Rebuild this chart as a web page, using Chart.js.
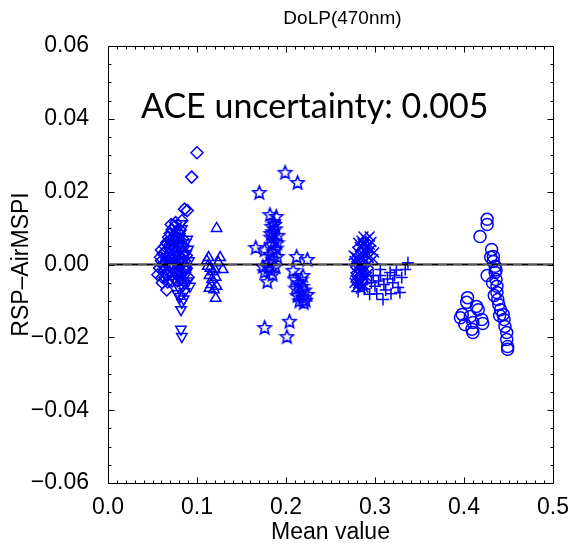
<!DOCTYPE html>
<html>
<head>
<meta charset="utf-8">
<title>DoLP(470nm)</title>
<script src="https://cdn.jsdelivr.net/npm/chart.js@4.4.1/dist/chart.umd.min.js"></script>
<style>
    html, body { margin: 0; padding: 0; background: #fff; }
    #wrap { width: 573px; height: 546px; }
</style>
</head>
<body>
<div id="wrap"><canvas id="chart" width="573" height="546"></canvas></div>
<script>
'use strict';

// --- Data ---

const chartTitle = 'DoLP(470nm)';
const xTitle = 'Mean value';
const yTitle = 'RSP\u2013AirMSPI';
const note = 'ACE uncertainty: 0.005';

const xTicks = [0.0, 0.1, 0.2, 0.3, 0.4, 0.5];
const yTicks = [-0.06, -0.04, -0.02, 0.00, 0.02, 0.04, 0.06];

const diamondX = [0.100, 0.094, 0.086, 0.089, 0.083, 0.056, 0.066, 0.061, 0.058, 0.060,
    0.062, 0.064, 0.066, 0.068, 0.070, 0.072, 0.075, 0.078, 0.080, 0.082,
    0.084, 0.086, 0.088, 0.090, 0.085, 0.080, 0.076, 0.072, 0.068, 0.064,
    0.062, 0.066, 0.070, 0.074, 0.078, 0.082, 0.074, 0.070, 0.076, 0.080,
    0.072, 0.067, 0.078, 0.084, 0.073, 0.069, 0.063, 0.077, 0.081, 0.071,
    0.060, 0.065, 0.070, 0.075, 0.080, 0.085, 0.063, 0.068, 0.073, 0.078,
    0.083, 0.088, 0.061, 0.067, 0.072, 0.077, 0.082, 0.087, 0.059, 0.064,
    0.069, 0.074, 0.079, 0.084, 0.071, 0.076];
const diamondY = [0.0307, 0.0240, 0.0152, 0.0148, 0.0120, -0.0028, -0.0070, -0.0050, -0.0010, 0.0010,
    0.0030, 0.0050, 0.0060, 0.0075, 0.0085, 0.0095, 0.0105, 0.0090, 0.0070, 0.0050,
    0.0030, 0.0010, -0.0010, -0.0035, -0.0045, -0.0030, -0.0015, 0.0000, -0.0020, -0.0035,
    0.0000, 0.0015, 0.0030, 0.0045, 0.0035, 0.0015, 0.0065, 0.0055, 0.0020, -0.0005,
    -0.0030, -0.0048, -0.0045, -0.0010, 0.0015, 0.0000, -0.0018, 0.0075, 0.0095, -0.0010,
    0.0040, 0.0035, 0.0065, 0.0080, 0.0085, 0.0050, -0.0005, 0.0020, 0.0055, 0.0010,
    -0.0020, 0.0025, -0.0035, -0.0030, -0.0045, -0.0025, -0.0040, -0.0015, 0.0020, 0.0005,
    0.0045, 0.0025, 0.0060, 0.0070, 0.0110, 0.0115];

const triDownX = [0.082, 0.083, 0.081, 0.089, 0.090, 0.087, 0.085, 0.079, 0.076, 0.088,
    0.092, 0.086, 0.080, 0.081, 0.083, 0.082, 0.085, 0.078, 0.082, 0.083,
    0.074, 0.084, 0.079, 0.073, 0.087, 0.088, 0.091, 0.086, 0.084, 0.090];
const triDownY = [0.0112, 0.0098, 0.0085, 0.0069, 0.0042, 0.0060, 0.0025, 0.0050, 0.0030, -0.0010,
    -0.0060, -0.0052, -0.0065, -0.0088, -0.0104, -0.0124, -0.0095, -0.0080, -0.0178, -0.0198,
    -0.0040, 0.0005, -0.0020, 0.0060, -0.0030, 0.0030, 0.0010, -0.0075, -0.0060, -0.0045];

const triUpX = [0.122, 0.113, 0.126, 0.129, 0.112, 0.115, 0.118, 0.120, 0.114, 0.117,
    0.121, 0.116, 0.119, 0.114, 0.122, 0.121, 0.124, 0.111];
const triUpY = [0.0099, 0.0019, 0.0019, -0.0014, -0.0005, -0.0010, -0.0020, -0.0014, -0.0030, -0.0041,
    -0.0035, -0.0055, -0.0069, -0.0065, -0.0060, -0.0093, 0.0005, 0.0010];

const starX = [0.199, 0.213, 0.170, 0.182, 0.189, 0.186, 0.184, 0.188, 0.191, 0.185,
    0.183, 0.187, 0.184, 0.189, 0.186, 0.182, 0.190, 0.166, 0.176, 0.174,
    0.180, 0.185, 0.179, 0.183, 0.176, 0.212, 0.224, 0.208, 0.219, 0.210,
    0.214, 0.218, 0.211, 0.216, 0.221, 0.213, 0.219, 0.224, 0.215, 0.222,
    0.176, 0.204, 0.201, 0.187, 0.183, 0.190, 0.185, 0.181, 0.188, 0.220,
    0.217];
const starY = [0.0253, 0.0225, 0.0198, 0.0137, 0.0132, 0.0118, 0.0105, 0.0098, 0.0080, 0.0090,
    0.0075, 0.0065, 0.0055, 0.0045, 0.0035, 0.0028, 0.0022, 0.0047, 0.0040, -0.0005,
    -0.0008, -0.0027, -0.0047, -0.0015, -0.0020, 0.0022, 0.0014, -0.0016, -0.0030, -0.0040,
    -0.0050, -0.0060, -0.0065, -0.0075, -0.0070, -0.0085, -0.0090, -0.0082, -0.0100, -0.0098,
    -0.0173, -0.0156, -0.0198, 0.0110, 0.0085, 0.0060, 0.0015, 0.0005, -0.0005, -0.0105,
    -0.0040];

const crossX = [0.287, 0.294, 0.290, 0.296, 0.286, 0.292, 0.283, 0.289, 0.295, 0.280,
    0.286, 0.291, 0.279, 0.284, 0.289, 0.278, 0.282, 0.287, 0.293, 0.279,
    0.284, 0.290, 0.280, 0.286, 0.292, 0.278, 0.283, 0.289, 0.281, 0.287,
    0.279, 0.284, 0.299, 0.298, 0.276, 0.281, 0.285, 0.288, 0.291, 0.294,
    0.277, 0.280, 0.283, 0.286, 0.290, 0.293, 0.278, 0.282, 0.285, 0.288,
    0.291, 0.280, 0.284, 0.287, 0.277];
const crossY = [0.0077, 0.0077, 0.0068, 0.0062, 0.0058, 0.0052, 0.0048, 0.0042, 0.0040, 0.0035,
    0.0030, 0.0025, 0.0020, 0.0015, 0.0010, 0.0005, 0.0000, -0.0003, 0.0002, -0.0010,
    -0.0015, -0.0012, -0.0025, -0.0030, -0.0025, -0.0035, -0.0042, -0.0040, -0.0052, -0.0055,
    -0.0062, -0.0066, 0.0033, 0.0015, 0.0025, 0.0060, 0.0065, 0.0055, 0.0045, 0.0055,
    0.0010, 0.0012, 0.0028, 0.0020, 0.0035, 0.0018, -0.0020, -0.0008, -0.0022, -0.0018,
    -0.0035, -0.0045, -0.0050, -0.0063, -0.0050];

const plusX = [0.337, 0.334, 0.330, 0.326, 0.328, 0.309, 0.317, 0.306, 0.281, 0.294,
    0.300, 0.298, 0.304, 0.310, 0.314, 0.320, 0.322, 0.312, 0.318, 0.302,
    0.288, 0.296, 0.306, 0.324, 0.286];
const plusY = [0.0005, -0.0014, -0.0036, -0.0063, -0.0077, -0.0096, -0.0022, -0.0014, -0.0074, -0.0082,
    -0.0060, -0.0030, -0.0045, -0.0055, -0.0040, -0.0050, -0.0030, -0.0070, -0.0080, -0.0080,
    -0.0068, -0.0050, -0.0030, -0.0015, -0.0055];

const circleX = [0.404, 0.403, 0.414, 0.416, 0.398, 0.396, 0.407, 0.410, 0.420, 0.421,
    0.401, 0.409, 0.410, 0.426, 0.426, 0.418, 0.431, 0.433, 0.433, 0.435,
    0.426, 0.435, 0.436, 0.437, 0.437, 0.438, 0.439, 0.441, 0.444, 0.445,
    0.446, 0.448, 0.448, 0.449, 0.449, 0.432, 0.434, 0.440, 0.436, 0.430];
const circleY = [-0.0091, -0.0104, -0.0115, -0.0124, -0.0137, -0.0146, -0.0143, -0.0159, -0.0151, -0.0162,
    -0.0165, -0.0178, -0.0187, 0.0124, 0.0110, 0.0077, 0.0041, 0.0022, 0.0008, -0.0005,
    -0.0030, -0.0022, -0.0041, -0.0060, -0.0077, -0.0096, -0.0110, -0.0124, -0.0137, -0.0151,
    -0.0170, -0.0187, -0.0206, -0.0225, -0.0233, -0.0050, -0.0085, -0.0140, -0.0015, 0.0020];

// --- Helpers ---

const BLUE = '#0000ff';
const FONT = '"Liberation Sans", Arial, Helvetica, sans-serif';

function toPoints(xs, ys) {
    return xs.map((x, i) => ({ x: x, y: ys[i] }));
}

// five-pointed outline star used as a point style
function makeStar() {
    const c = document.createElement('canvas');
    c.width = 17;
    c.height = 17;
    const g = c.getContext('2d');
    g.strokeStyle = BLUE;
    g.lineWidth = 1.6;
    g.beginPath();
    for (let i = 0; i < 10; i++) {
        const r = i % 2 === 0 ? 7 : 3.1;
        const a = -Math.PI / 2 + i * Math.PI / 5;
        const px = 8.5 + r * Math.cos(a);
        const py = 9 + r * Math.sin(a);
        if (i === 0) g.moveTo(px, py); else g.lineTo(px, py);
    }
    g.closePath();
    g.stroke();
    return c;
}

function markerSet(xs, ys, style, radius, rotation) {
    return {
        type: 'scatter',
        data: toPoints(xs, ys),
        pointStyle: style,
        pointRadius: radius,
        pointRotation: rotation || 0,
        pointBorderColor: BLUE,
        pointBackgroundColor: 'rgba(0,0,0,0)',
        pointBorderWidth: 1.5,
        pointHoverRadius: radius,
        order: 2,
    };
}

// Frame, inward ticks on all four sides, title and note
const framePlugin = {
    id: 'frame',
    afterDatasetsDraw(chart) {
        const { ctx, scales } = chart;
        const sx = scales.x, sy = scales.y;
        const left = Math.round(sx.left) + 0.5;
        const right = Math.round(sx.right) + 0.5;
        const top = Math.round(sy.top) + 0.5;
        const bottom = Math.round(sy.bottom) + 0.5;
        ctx.save();
        ctx.setLineDash([]);
        ctx.strokeStyle = '#000';
        ctx.lineWidth = 1;
        ctx.beginPath();
        for (let i = 0; i <= 50; i++) {
            const len = i % 10 === 0 ? 6 : 3;
            const px = Math.round(sx.getPixelForValue(i / 100)) + 0.5;
            ctx.moveTo(px, bottom);
            ctx.lineTo(px, bottom - len);
            ctx.moveTo(px, top);
            ctx.lineTo(px, top + len);
        }
        for (let i = -12; i <= 12; i++) {
            const len = i % 4 === 0 ? 6 : 3;
            const py = Math.round(sy.getPixelForValue(i * 0.005)) + 0.5;
            ctx.moveTo(left, py);
            ctx.lineTo(left + len, py);
            ctx.moveTo(right, py);
            ctx.lineTo(right - len, py);
        }
        ctx.moveTo(left, top);
        ctx.lineTo(right, top);
        ctx.lineTo(right, bottom);
        ctx.lineTo(left, bottom);
        ctx.closePath();
        ctx.stroke();
        ctx.restore();
    },
    afterDraw(chart) {
        const { ctx, scales } = chart;
        const left = scales.x.left, right = scales.x.right;
        ctx.save();
        ctx.fillStyle = '#000';
        ctx.font = '19px ' + FONT;
        ctx.textAlign = 'center';
        ctx.textBaseline = 'middle';
        ctx.fillText(chartTitle, (left + right) / 2 + 12, 19);
        ctx.font = '34px Lato, "Open Sans", sans-serif';
        ctx.textAlign = 'left';
        ctx.textBaseline = 'alphabetic';
        ctx.fillText(note, left + 33, 118);
        ctx.restore();
    },
};

// --- Chart ---

new Chart(document.getElementById('chart').getContext('2d'), {
    data: {
        datasets: [
            {
                type: 'line',
                data: [{ x: xTicks[0], y: 0 }, { x: xTicks[xTicks.length - 1], y: 0 }],
                borderColor: '#000',
                borderWidth: 2,
                pointRadius: 0,
                order: 1,
            },
            {
                type: 'line',
                data: [{ x: xTicks[0], y: -0.0001 }, { x: xTicks[xTicks.length - 1], y: -0.0001 }],
                borderColor: '#8c8c8c',
                borderWidth: 1,
                borderDash: [9, 6],
                pointRadius: 0,
                order: 0,
            },
            markerSet(diamondX, diamondY, 'rectRot', 6),
            markerSet(triDownX, triDownY, 'triangle', 6, 180),
            markerSet(triUpX, triUpY, 'triangle', 6),
            markerSet(starX, starY, makeStar(), 6),
            markerSet(crossX, crossY, 'crossRot', 7),
            markerSet(plusX, plusY, 'cross', 6),
            markerSet(circleX, circleY, 'circle', 6),
        ],
    },
    options: {
        responsive: false,
        animation: false,
        events: [],
        layout: { padding: { top: 46, right: 20, bottom: 0, left: 0 } },
        plugins: {
            legend: { display: false },
            tooltip: { enabled: false },
            title: { display: false },
        },
        scales: {
            x: {
                type: 'linear',
                min: xTicks[0],
                max: xTicks[xTicks.length - 1],
                afterBuildTicks(scale) { scale.ticks = xTicks.map(v => ({ value: v })); },
                ticks: {
                    callback: v => v.toFixed(1),
                    color: '#000',
                    font: { family: FONT, size: 23 },
                    padding: 3,
                    maxRotation: 0,
                },
                grid: { display: false },
                border: { display: false },
                title: {
                    display: true,
                    text: xTitle,
                    color: '#000',
                    font: { family: FONT, size: 23 },
                    padding: { top: 0, bottom: 0 },
                },
                afterFit(scale) { scale.height = 63; },
            },
            y: {
                type: 'linear',
                min: yTicks[0],
                max: yTicks[yTicks.length - 1],
                afterBuildTicks(scale) { scale.ticks = yTicks.map(v => ({ value: v })); },
                ticks: {
                    callback: v => (Math.abs(v) < 1e-9 ? '0.00' : v.toFixed(2)).replace('-', '\u2212'),
                    color: '#000',
                    font: { family: FONT, size: 23 },
                    padding: 11,
                },
                grid: { display: false },
                border: { display: false },
                title: {
                    display: true,
                    text: yTitle,
                    color: '#000',
                    font: { family: FONT, size: 23 },
                    padding: { top: 8, bottom: 0 },
                },
                afterFit(scale) { scale.width = 108; },
            },
        },
    },
    plugins: [framePlugin],
});
</script>
</body>
</html>
